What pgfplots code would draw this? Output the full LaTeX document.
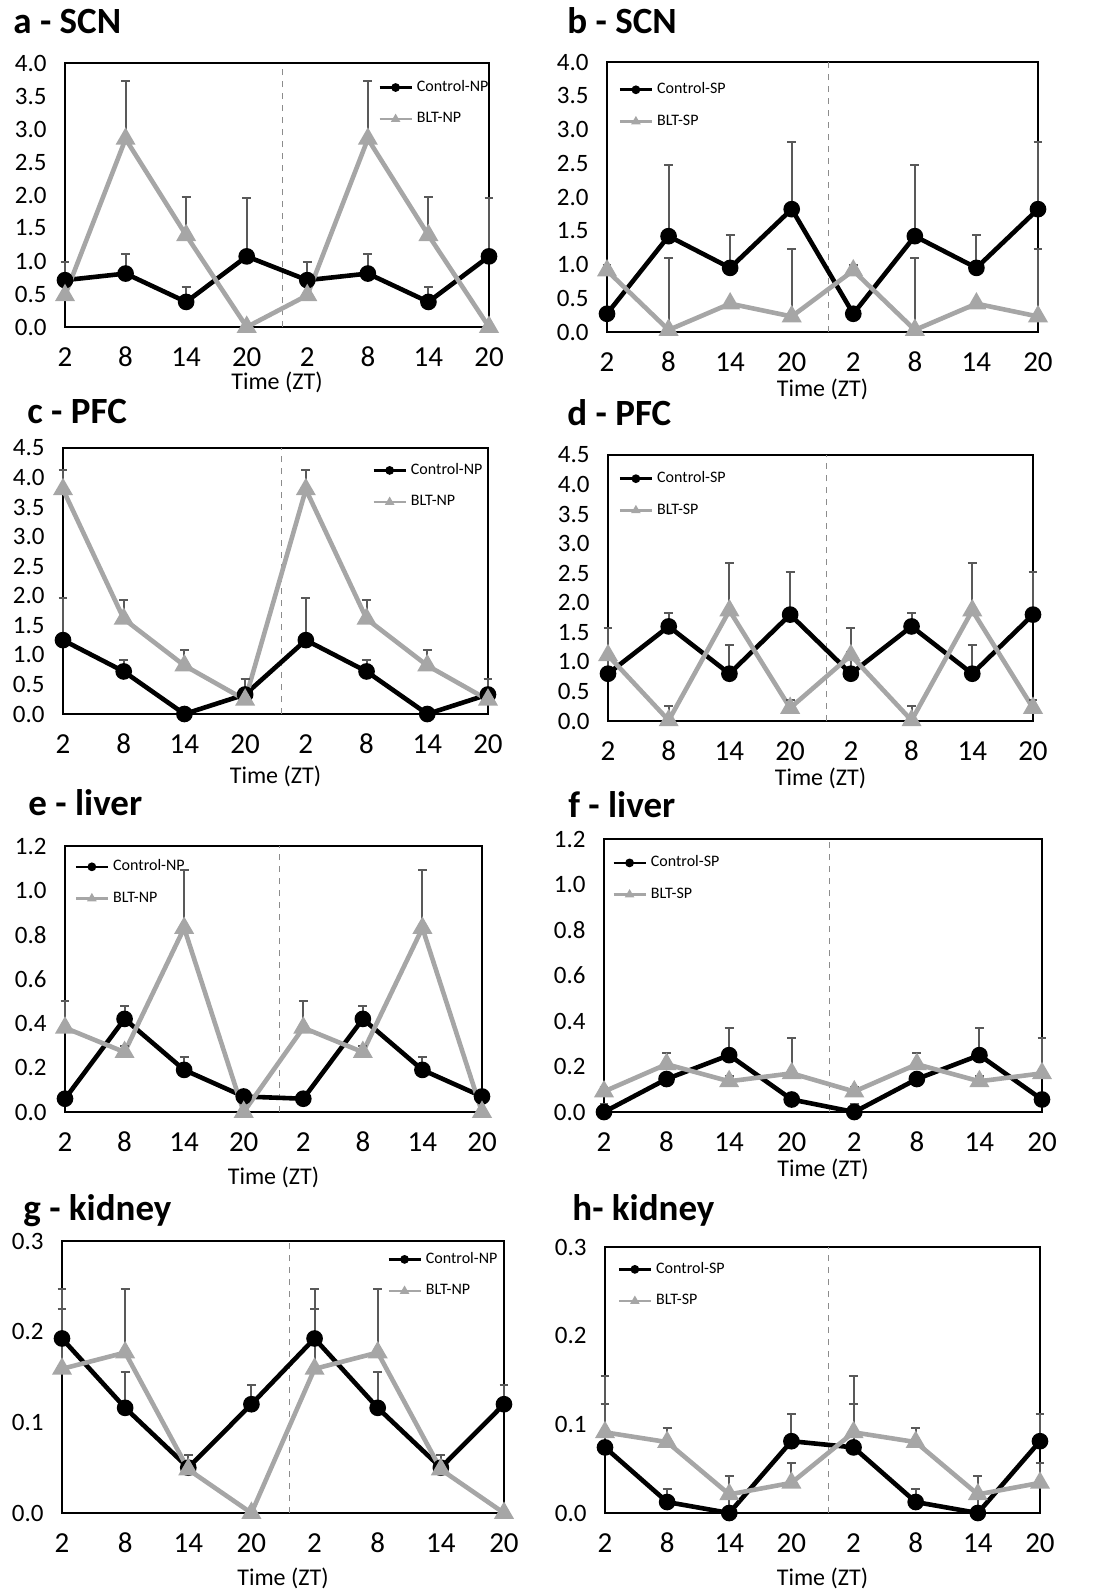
\documentclass[border=0pt]{standalone}
\usepackage{fontspec}
\setmainfont{Carlito}
\usepackage{pgfplots}
\pgfplotsset{compat=1.18}
\definecolor{bltgray}{HTML}{A6A6A6}
\definecolor{errgray}{HTML}{595959}
\definecolor{dashgray}{HTML}{8C8C8C}

\pgfplotsset{
  panel/.style={
    scale only axis,
    anchor=south west,
    xmin=0, xmax=7, ymin=0,
    xtick={0,1,2,3,4,5,6,7},
    xticklabels={\textrm{2},\textrm{8},\textrm{14},\textrm{20},\textrm{2},\textrm{8},\textrm{14},\textrm{20}},
    major tick length=0pt,
    axis line style={line width=1.2pt},
    clip=false,
    xlabel={Time (ZT)},
    xlabel style={at={(axis description cs:0.5,0)}, anchor=center, inner sep=0.5pt, font=\fontsize{12}{14}\selectfont},
    xticklabel style={font=\fontsize{14.5}{16}\selectfont, anchor=center, inner sep=0.5pt, yshift=-15pt},
    yticklabel style={font=\fontsize{12.5}{14}\selectfont, anchor=east, inner sep=0pt, xshift=-9pt},
    /pgf/number format/fixed,
    /pgf/number format/fixed zerofill,
    /pgf/number format/precision=1,
    /pgf/number format/assume math mode=true,
    legend style={draw=none, fill=none, font=\fontsize{8}{9.6}\selectfont, inner sep=0pt, anchor=west, row sep=5pt},
    legend cell align=left,
    legend image code/.code={
      \draw[##1, line width=1.3pt, mark size=1.5pt, mark repeat=2, mark phase=2] plot coordinates {(0pt,0pt) (8pt,0pt) (16pt,0pt)};
    },
    error bars/y dir=plus,
    error bars/y explicit,
    error bars/error bar style={errgray, line width=1pt, solid},
    error bars/error mark=-,
    error bars/error mark options={errgray, line width=1pt, mark size=2.2pt, rotate=90},
  },
  ctrl/.style={black, line width=2.3pt, mark=*, mark size=3pt, mark options={solid, fill=black}},
  blt/.style={bltgray, line width=2.3pt, mark=triangle*, mark size=3.5pt, mark options={solid, fill=bltgray}},
}

\begin{document}
\begin{tikzpicture}
\path[use as bounding box] (0pt,0pt) rectangle (551.5pt,-795.5pt);

% ---------- a - SCN ----------
\begin{axis}[panel, at={(32.5pt,-163.5pt)}, width=212pt, height=132pt,
  ymax=4, ytick={0,0.5,1,1.5,2,2.5,3,3.5,4},
  legend style={at={(0.738,0.848)}}, xlabel style={yshift=-27.5pt}]
\draw[dashgray, dashed, line width=0.5pt] (rel axis cs:0.514,0) -- (rel axis cs:0.514,1);
\addplot[ctrl] table[x=x,y=y,y error=e] {
x y e
0 0.71 0.28
1 0.81 0.30
2 0.38 0.23
3 1.07 0.89
4 0.71 0.28
5 0.81 0.30
6 0.38 0.23
7 1.07 0.89
};
\addlegendentry{Control-NP}
\addplot[blt] table[x=x,y=y,y error=e] {
x y e
0 0.48 0
1 2.85 0.87
2 1.39 0.58
3 0.00 0
4 0.48 0
5 2.85 0.87
6 1.39 0.58
7 0.00 0
};
\addlegendentry{BLT-NP}
\end{axis}

% ---------- b - SCN ----------
\begin{axis}[panel, at={(303.5pt,-166pt)}, width=215.5pt, height=135pt,
  ymax=4, ytick={0,0.5,1,1.5,2,2.5,3,3.5,4},
  legend style={at={(0.026,0.839)}}, xlabel style={yshift=-28.5pt}]
\draw[dashgray, dashed, line width=0.5pt] (rel axis cs:0.514,0) -- (rel axis cs:0.514,1);
\addplot[ctrl] table[x=x,y=y,y error=e] {
x y e
0 0.27 0
1 1.42 1.05
2 0.95 0.48
3 1.82 0.99
4 0.27 0
5 1.42 1.05
6 0.95 0.48
7 1.82 0.99
};
\addlegendentry{Control-SP}
\addplot[blt] table[x=x,y=y,y error=e] {
x y e
0 0.91 0.08
1 0.03 1.07
2 0.42 0
3 0.23 1.00
4 0.91 0.08
5 0.03 1.07
6 0.42 0
7 0.23 1.00
};
\addlegendentry{BLT-SP}
\end{axis}

% ---------- c - PFC ----------
\begin{axis}[panel, at={(31.5pt,-357pt)}, width=212.5pt, height=133pt,
  ymax=4.5, ytick={0,0.5,1,1.5,2,2.5,3,3.5,4,4.5},
  legend style={at={(0.727,0.857)}}, xlabel style={yshift=-31pt}]
\draw[dashgray, dashed, line width=0.5pt] (rel axis cs:0.514,0) -- (rel axis cs:0.514,1);
\addplot[ctrl] table[x=x,y=y,y error=e] {
x y e
0 1.25 0.71
1 0.72 0.20
2 0.00 0
3 0.33 0.26
4 1.25 0.71
5 0.72 0.20
6 0.00 0
7 0.33 0.26
};
\addlegendentry{Control-NP}
\addplot[blt] table[x=x,y=y,y error=e] {
x y e
0 3.80 0.33
1 1.61 0.32
2 0.82 0.26
3 0.24 0.35
4 3.80 0.33
5 1.61 0.32
6 0.82 0.26
7 0.24 0.35
};
\addlegendentry{BLT-NP}
\end{axis}

% ---------- d - PFC ----------
\begin{axis}[panel, at={(304pt,-360.5pt)}, width=212.5pt, height=133pt,
  ymax=4.5, ytick={0,0.5,1,1.5,2,2.5,3,3.5,4,4.5},
  legend style={at={(0.024,0.852)}}, xlabel style={yshift=-28.5pt}]
\draw[dashgray, dashed, line width=0.5pt] (rel axis cs:0.514,0) -- (rel axis cs:0.514,1);
\addplot[ctrl] table[x=x,y=y,y error=e] {
x y e
0 0.80 0.37
1 1.60 0.23
2 0.80 0.48
3 1.80 0.72
4 0.80 0.37
5 1.60 0.23
6 0.80 0.48
7 1.80 0.72
};
\addlegendentry{Control-SP}
\addplot[blt] table[x=x,y=y,y error=e] {
x y e
0 1.11 0.47
1 0.01 0.24
2 1.87 0.81
3 0.22 0.13
4 1.11 0.47
5 0.01 0.24
6 1.87 0.81
7 0.22 0.13
};
\addlegendentry{BLT-SP}
\end{axis}

% ---------- e - liver ----------
\begin{axis}[panel, at={(32.5pt,-556pt)}, width=208.5pt, height=133pt,
  ymax=1.2, ytick={0,0.2,0.4,0.6,0.8,1.0,1.2},
  legend style={at={(0.022,0.863)}}, xlabel style={yshift=-32.5pt}]
\draw[dashgray, dashed, line width=0.5pt] (rel axis cs:0.514,0) -- (rel axis cs:0.514,1);
\addplot[ctrl] table[x=x,y=y,y error=e] {
x y e
0 0.06 0
1 0.42 0.06
2 0.19 0.06
3 0.07 0.01
4 0.06 0
5 0.42 0.06
6 0.19 0.06
7 0.07 0.01
};
\addlegendentry{Control-NP}
\addplot[blt] table[x=x,y=y,y error=e] {
x y e
0 0.38 0.12
1 0.27 0.03
2 0.83 0.26
3 0.00 0
4 0.38 0.12
5 0.27 0.03
6 0.83 0.26
7 0.00 0
};
\addlegendentry{BLT-NP}
\end{axis}

% ---------- f - liver ----------
\begin{axis}[panel, at={(302pt,-556pt)}, width=219pt, height=136.5pt,
  ymax=1.2, ytick={0,0.2,0.4,0.6,0.8,1.0,1.2},
  legend style={at={(0.018,0.855)}}, xlabel style={yshift=-28.5pt}]
\draw[dashgray, dashed, line width=0.5pt] (rel axis cs:0.514,0) -- (rel axis cs:0.514,1);
\addplot[ctrl] table[x=x,y=y,y error=e] {
x y e
0 0.000 0.035
1 0.145 0
2 0.250 0.12
3 0.055 0
4 0.000 0.035
5 0.145 0
6 0.250 0.12
7 0.055 0
};
\addlegendentry{Control-SP}
\addplot[blt] table[x=x,y=y,y error=e] {
x y e
0 0.090 0.02
1 0.210 0.05
2 0.135 0.025
3 0.170 0.155
4 0.090 0.02
5 0.210 0.05
6 0.135 0.025
7 0.170 0.155
};
\addlegendentry{BLT-SP}
\end{axis}

% ---------- g - kidney ----------
\begin{axis}[panel, at={(31pt,-756.5pt)}, width=221pt, height=136pt,
  ymax=0.3, ytick={0,0.1,0.2,0.3},
  legend style={at={(0.735,0.875)}}, xlabel style={yshift=-32.5pt}]
\draw[dashgray, dashed, line width=0.5pt] (rel axis cs:0.514,0) -- (rel axis cs:0.514,1);
\addplot[ctrl] table[x=x,y=y,y error=e] {
x y e
0 0.1925 0.032
1 0.116 0.040
2 0.050 0.014
3 0.120 0.021
4 0.1925 0.032
5 0.116 0.040
6 0.050 0.014
7 0.120 0.021
};
\addlegendentry{Control-NP}
\addplot[blt] table[x=x,y=y,y error=e] {
x y e
0 0.159 0.088
1 0.177 0.070
2 0.048 0
3 0.000 0
4 0.159 0.088
5 0.177 0.070
6 0.048 0
7 0.000 0
};
\addlegendentry{BLT-NP}
\end{axis}

% ---------- h - kidney ----------
\begin{axis}[panel, at={(302.5pt,-756.5pt)}, width=217.5pt, height=133pt,
  ymax=0.3, ytick={0,0.1,0.2,0.3},
  legend style={at={(0.028,0.857)}}, xlabel style={yshift=-32.5pt}]
\draw[dashgray, dashed, line width=0.5pt] (rel axis cs:0.514,0) -- (rel axis cs:0.514,1);
\addplot[ctrl] table[x=x,y=y,y error=e] {
x y e
0 0.074 0.049
1 0.0124 0.015
2 0.000 0.042
3 0.081 0.031
4 0.074 0.049
5 0.0124 0.015
6 0.000 0.042
7 0.081 0.031
};
\addlegendentry{Control-SP}
\addplot[blt] table[x=x,y=y,y error=e] {
x y e
0 0.091 0.064
1 0.080 0.016
2 0.021 0.021
3 0.034 0.022
4 0.091 0.064
5 0.080 0.016
6 0.021 0.021
7 0.034 0.022
};
\addlegendentry{BLT-SP}
\end{axis}

% ---------- panel titles ----------
\begin{scope}[every node/.style={anchor=base west, inner sep=0pt, font=\fontsize{18.5}{22}\selectfont\bfseries}]
\node at (6.5pt,-16.5pt) {a - SCN};
\node at (283.5pt,-16.5pt) {b - SCN};
\node at (13.5pt,-211.5pt) {c - PFC};
\node at (283.5pt,-212.5pt) {d - PFC};
\node at (14pt,-407.5pt) {e - liver};
\node at (284pt,-408.5pt) {f - liver};
\node at (11.5pt,-610pt) {g - kidney};
\node at (286pt,-610pt) {h- kidney};
\end{scope}
\end{tikzpicture}
\end{document}
